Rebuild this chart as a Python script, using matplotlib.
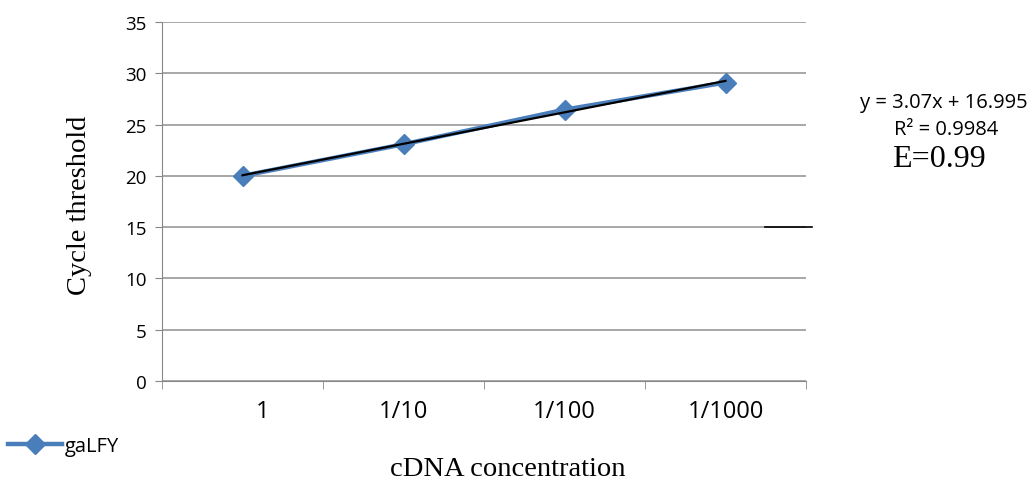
'''
Standard curve for gaLFY: cycle threshold against cDNA dilution.
'''

from matplotlib import pyplot as plt
from matplotlib.transforms import ScaledTranslation
import numpy as np

# Data
concentrations = ["1", "1/10", "1/100", "1/1000"]
cycle_threshold = [20.0, 23.08, 26.45, 29.1]
series_name = "gaLFY"
equation_text = "y = 3.07x + 16.995"
r2_text = "R² = 0.9984"
efficiency_text = "E=0.99"

blue = "#4a7ebb"
serif = "Liberation Serif"
sans = "Open Sans"

fig = plt.figure(figsize=(10.36, 4.85), dpi=100)
ax = fig.add_axes([0.1564, 0.2124, 0.6216, 0.7402])

x = np.arange(1, len(concentrations) + 1)
ax.plot(x, cycle_threshold, color=blue, lw=3.2, marker="D", ms=10.5,
        markeredgecolor=blue, label=series_name, zorder=3)

# Linear trendline drawn over the series
slope, intercept = np.polyfit(x, cycle_threshold, 1)
ax.plot(x, slope * x + intercept, color="black", lw=1.6, zorder=4)

ax.set_xlim(0.5, len(concentrations) + 0.5)
ax.set_ylim(0, 35)
ax.set_yticks(range(0, 36, 5))
ax.set_xticks(x)
ax.set_xticklabels(concentrations)
ax.set_xticks(np.arange(0.5, len(concentrations) + 1, 1), minor=True)
ax.tick_params(axis="x", which="major", length=0, pad=13)
ax.tick_params(axis="x", which="minor", length=6, color="#888888")
ax.tick_params(axis="y", length=5, color="#888888", pad=6)
for lab in ax.get_xticklabels():
    lab.set_fontfamily(sans)
    lab.set_fontsize(17)
for lab in ax.get_yticklabels():
    lab.set_fontfamily(sans)
    lab.set_fontsize(13.5)
# the first label sits a little right of its category in the original
first = ax.get_xticklabels()[0]
first.set_transform(first.get_transform() +
                    ScaledTranslation(0.2, 0, fig.dpi_scale_trans))

ax.grid(axis="y", color="#a0a0a0", lw=1.3)
ax.set_axisbelow(True)
for side in ["top", "right"]:
    ax.spines[side].set_visible(False)
ax.spines["left"].set_color("#888888")
ax.spines["bottom"].set_color("#888888")

ax.set_ylabel("Cycle threshold", fontfamily=serif, fontsize=20.5)
ax.yaxis.set_label_coords(-0.109, 0.493)
fig.text(0.490, 0.031, "cDNA concentration", fontfamily=serif, fontsize=20.5,
         ha="center", va="center")

# Trendline equation box
fig.text(0.911, 0.788, equation_text, fontfamily=sans, fontsize=14.5,
         ha="center", va="center")
fig.text(0.913, 0.732, r2_text, fontfamily=sans, fontsize=14.5,
         ha="center", va="center")
fig.text(0.906, 0.672, efficiency_text, fontfamily=serif, fontsize=23,
         ha="center", va="center")

# stray dash left on the original picture
ax.plot([4.245, 4.537], [15, 15], color="black", lw=1.2, clip_on=False)

leg = fig.legend(loc="center left", bbox_to_anchor=(0.0077, 0.078),
                 frameon=False, handlelength=2.7, handletextpad=0.1,
                 borderpad=0, borderaxespad=0,
                 prop={"family": sans, "size": 14.5})

plt.savefig("out.png", dpi=100)
